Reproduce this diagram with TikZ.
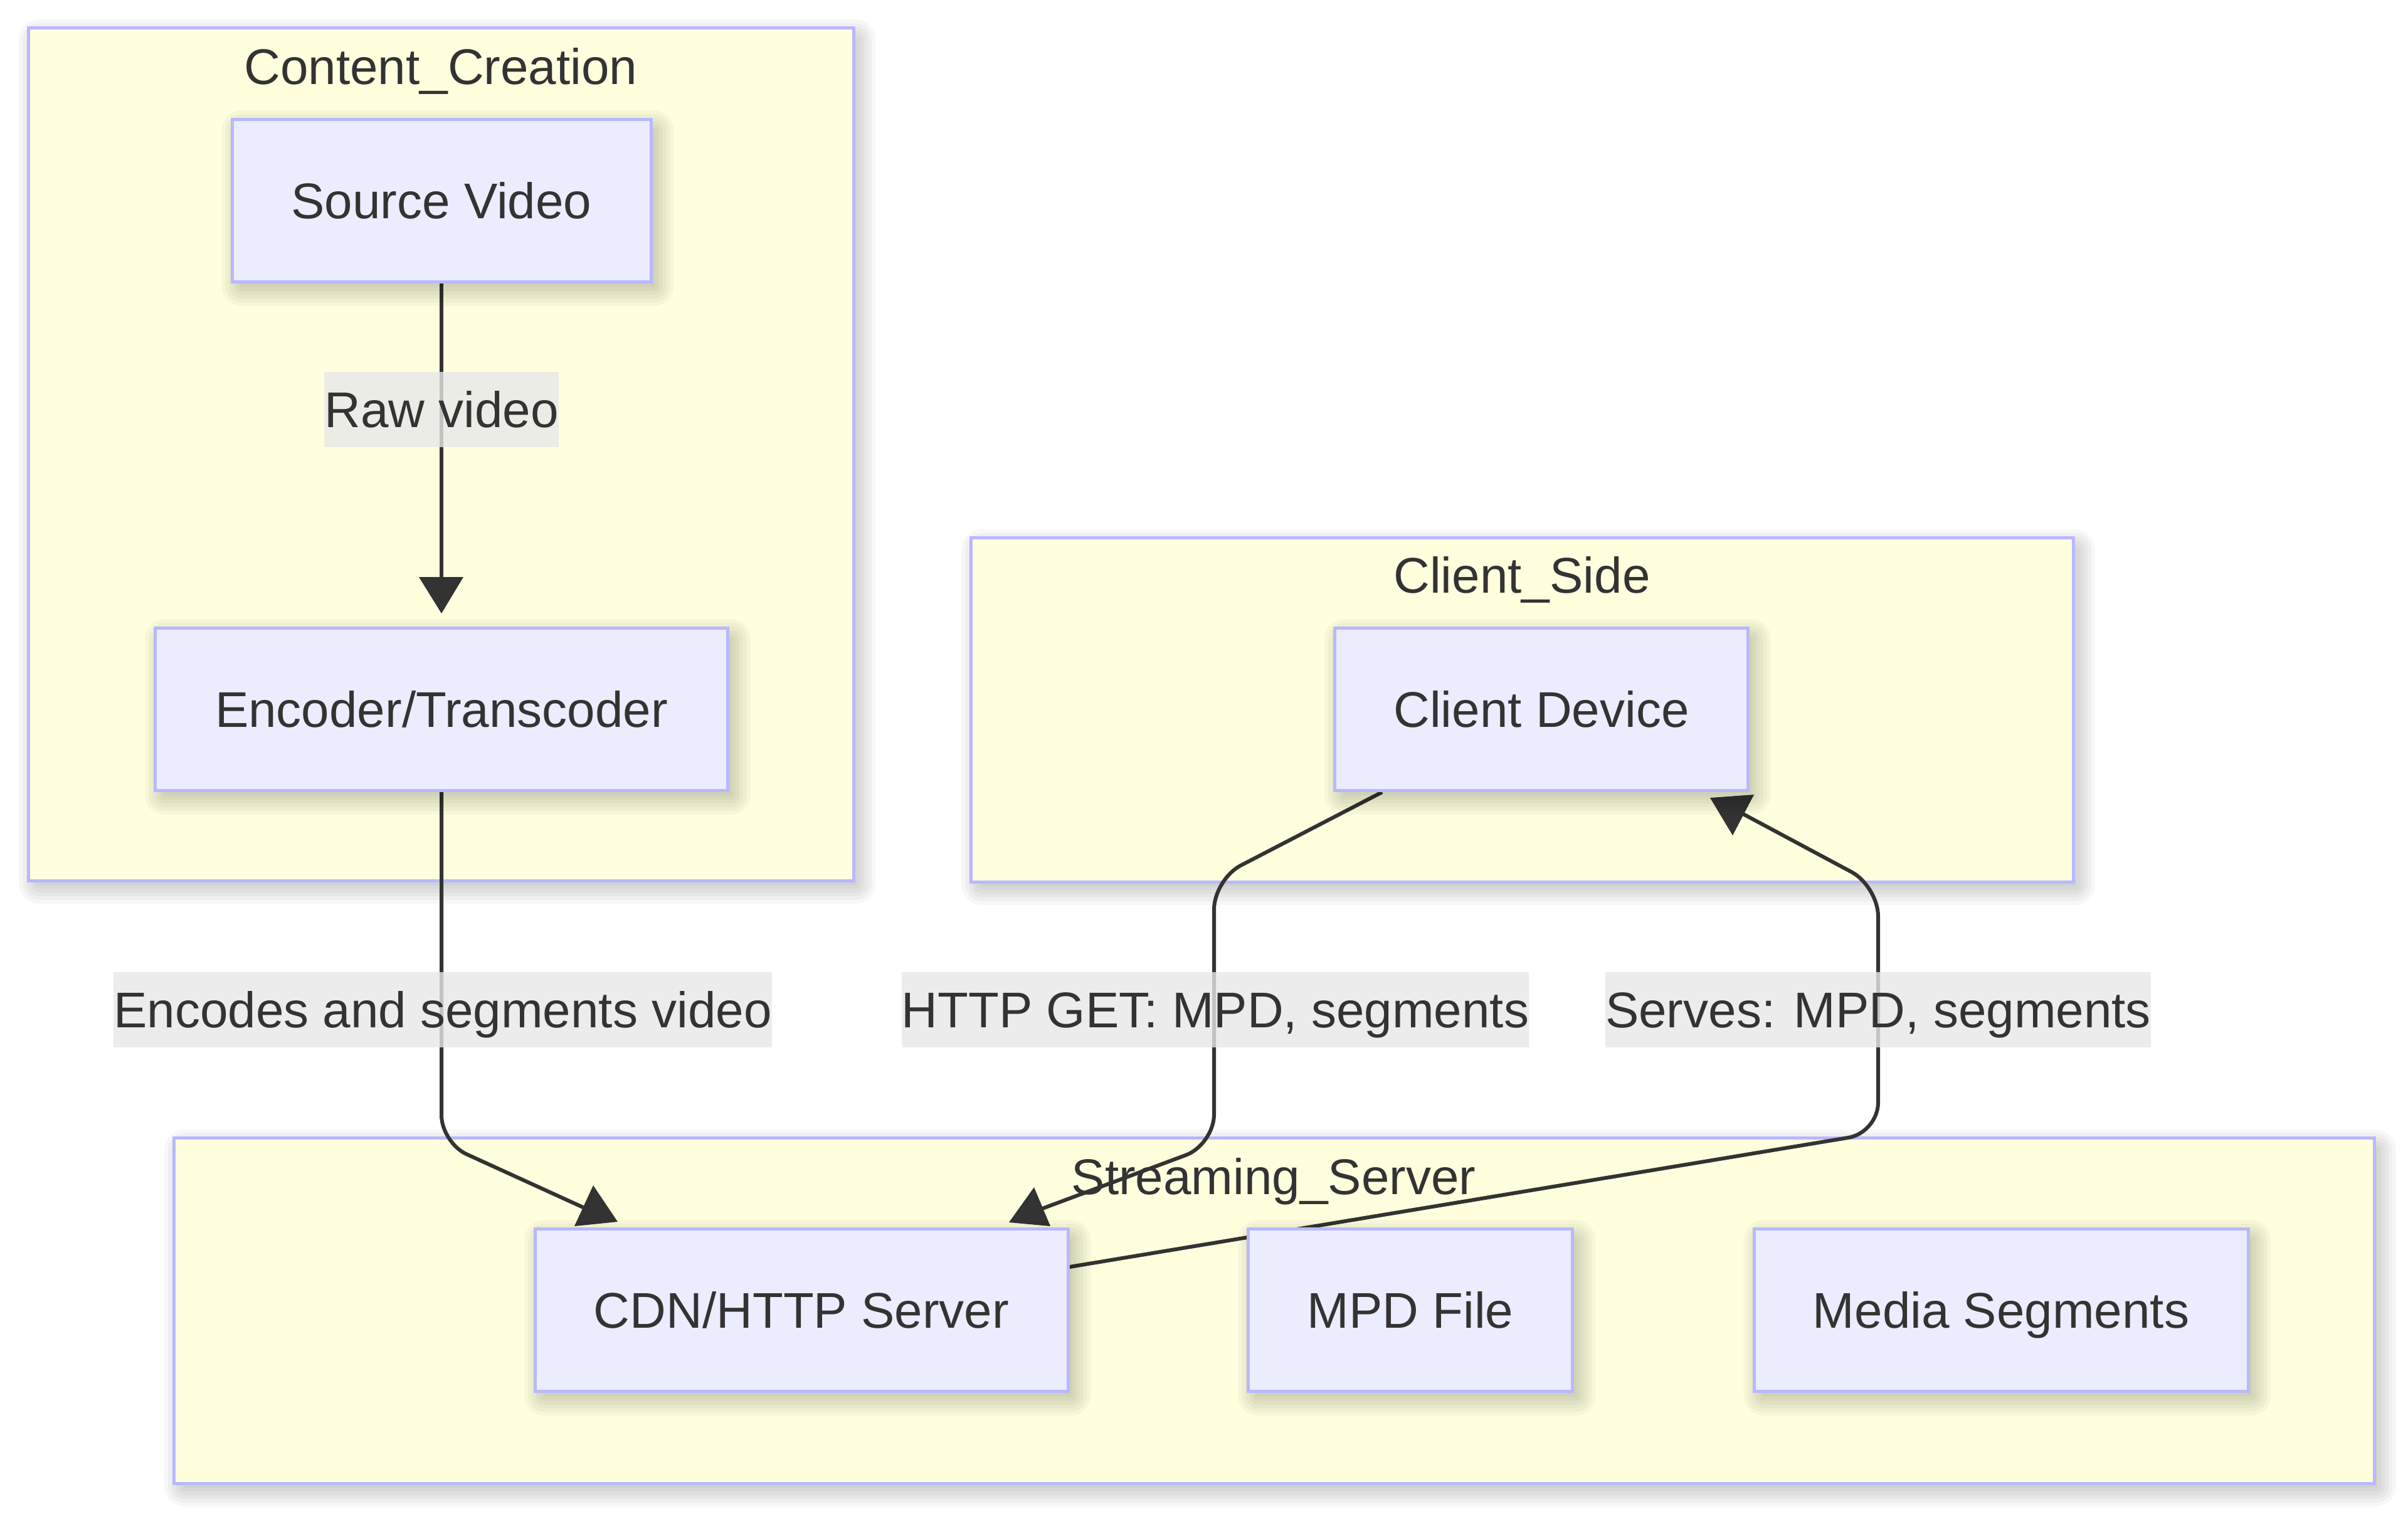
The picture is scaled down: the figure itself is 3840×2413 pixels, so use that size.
\documentclass[tikz,border=0pt]{standalone}
\usepackage{fontspec}
\setmainfont{Liberation Sans}
\usetikzlibrary{calc,fit}
\definecolor{clfill}{HTML}{FFFFDE}
\definecolor{clstroke}{RGB}{184,184,255}
\definecolor{ndfill}{HTML}{ECECFF}
\definecolor{txt}{HTML}{333333}
\definecolor{lblbg}{HTML}{E8E8E8}
\pgfdeclarelayer{bgl}
\pgfdeclarelayer{clus}
\pgfdeclarelayer{edge}
\pgfdeclarelayer{lbl}
\pgfdeclarelayer{nsh}
\pgfsetlayers{bgl,clus,edge,lbl,nsh,main}
\newcommand{\dropsh}[1]{%
  \foreach \e in {-6,0,6,12,18,24}{%
    \pgfmathsetmacro\rr{(\e+8)*0.25}%
    \fill[black,opacity=0.03,rounded corners=\rr pt]
      ($(#1.south west)+(10-\e,12+\e)$) rectangle ($(#1.north east)+(10+\e,12-\e)$);
  }}
\begin{document}
\begin{tikzpicture}[x=0.25pt,y=-0.25pt,
  font=\fontsize{20pt}{24pt}\selectfont, text=txt,
  clusterbox/.style={draw=clstroke,fill=clfill,line width=1.25pt,inner sep=0pt},
  proc/.style={draw=clstroke,fill=ndfill,line width=1.25pt,inner sep=0pt,
    minimum height=64.75pt,text height=14.3pt,text depth=0pt},
  elabel/.style={fill=lblbg,fill opacity=0.8,text opacity=1,inner xsep=0pt,inner ysep=0pt,
    minimum height=30pt,text height=14.3pt,text depth=0pt},
  edgeline/.style={draw=txt,line width=1.5pt},
  tipfill/.style={fill=txt}]
\useasboundingbox (0,0) rectangle (3840,2413);
\begin{pgfonlayer}{bgl}
  \fill[white] (0,0) rectangle (3840,2413);
\end{pgfonlayer}

% clusters
\begin{pgfonlayer}{clus}
  \node[inner sep=0pt,fit={(45,44) (1361,1404)}] (ccg) {};
  \node[inner sep=0pt,fit={(1548,857) (3306,1406)}] (csg) {};
  \node[inner sep=0pt,fit={(277,1814) (3786,2365)}] (ssg) {};
  \dropsh{ccg}
  \dropsh{csg}
  \dropsh{ssg}
  \node[clusterbox,fit={(45,44) (1361,1404)}] (cc) {};
  \node[clusterbox,fit={(1548,857) (3306,1406)}] (cs) {};
  \node[clusterbox,fit={(277,1814) (3786,2365)}] (ss) {};
  \node[anchor=base,inner sep=0pt] (cct) at (703,134) {Content\_Creation};
  \node[anchor=base,inner sep=0pt] (cst) at (2427,945) {Client\_Side};
  \node[anchor=base,inner sep=0pt] (sst) at (2031,1904) {Streaming\_Server};
\end{pgfonlayer}

% nodes
\node[proc,minimum width=167pt] (src) at (704,320) {Source Video};
\node[proc,minimum width=228.25pt] (enc) at (704,1131) {Encoder/Transcoder};
\node[proc,minimum width=164.75pt] (cd) at (2458,1131) {Client Device};
\node[proc,minimum width=212.5pt] (cdn) at (1278,2089) {CDN/HTTP Server};
\node[proc,minimum width=129.25pt] (mpd) at (2249,2089) {MPD File};
\node[proc,minimum width=197pt] (ms) at (3191,2089) {Media Segments};

\begin{pgfonlayer}{nsh}
  \dropsh{src}
  \dropsh{enc}
  \dropsh{cd}
  \dropsh{cdn}
  \dropsh{mpd}
  \dropsh{ms}
\end{pgfonlayer}

% edges
\begin{pgfonlayer}{edge}
  \coordinate (t0) at (704,950);
  \coordinate (t1) at (932,1926);
  \coordinate (t2) at (1662,1927);
  \coordinate (t3) at (2780,1298);
  \draw[edgeline] (src.south) -- (t0);
  \draw[edgeline,rounded corners=11pt] (enc.south) -- (704,1822) -- (t1);
  \draw[edgeline,rounded corners=12pt] ($(cd.south west)+(78,0)$) -- (1936,1402) -- (1936,1825) -- (t2);
  \draw[edgeline,rounded corners=12pt] ($(cdn.east)+(0,-69)$) -- (2995,1806) -- (2995,1413) -- (t3);
  \fill[tipfill] (668,920) -- (739,920) -- (704,978) -- cycle;
  \fill[tipfill] (946,1890) -- (916,1955) -- (985,1948) -- cycle;
  \fill[tipfill] (1649,1893) -- (1609,1949) -- (1675,1955) -- cycle;
  \fill[tipfill] (2727,1272) -- (2797,1267) -- (2763,1332) -- cycle;
\end{pgfonlayer}

% edge labels
\begin{pgfonlayer}{lbl}
  \node[elabel] (l1) at (704,653) {Raw video};
  \node[elabel] (l2) at (706,1610) {Encodes and segments video};
  \node[elabel] (l3) at (1938,1610) {HTTP GET: MPD, segments};
  \node[elabel] (l4) at (2995,1610) {Serves: MPD, segments};
\end{pgfonlayer}
\end{tikzpicture}
\end{document}
